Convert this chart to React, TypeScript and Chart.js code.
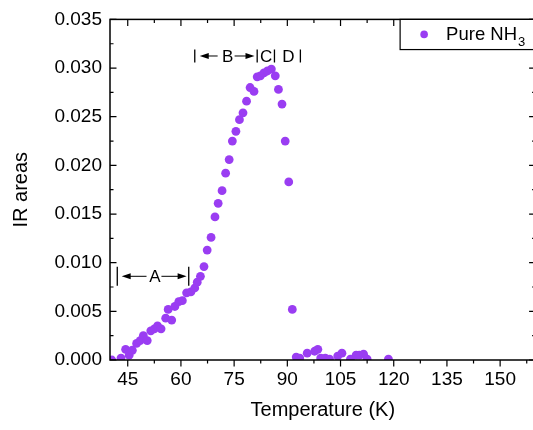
import React, { useEffect, useRef } from 'react';
import { Chart, registerables } from 'chart.js';

Chart.register(...registerables);

const temperatures = [
  40.5, 43.1, 44.4, 45.4, 46.3, 47.5, 48.5, 49.4, 50.5, 51.5,
  52.5, 53.4, 54.4, 55.7, 56.4, 57.4, 58.3, 59.4, 60.4, 61.6,
  62.8, 63.9, 64.6, 65.5, 66.5, 67.4, 68.5, 69.6, 70.5, 71.6,
  72.6, 73.6, 74.5, 75.5, 76.5, 77.5, 78.5, 79.5, 80.6, 81.5,
  82.4, 83.4, 84.4, 85.5, 86.6, 87.5, 88.5, 89.4, 90.4, 91.4,
  92.5, 93.5, 95.6, 97.7, 98.6, 99.4, 100.7, 101.9, 104.2, 105.4,
  107.8, 109.4, 110.3, 111.5, 112.5, 118.5,
];
const irAreas = [
  0.0000, 0.0002, 0.0011, 0.0005, 0.0010, 0.0017, 0.0020, 0.0025, 0.0020, 0.0030,
  0.0032, 0.0035, 0.0032, 0.0043, 0.0052, 0.0041, 0.0055, 0.0060, 0.0061, 0.0069,
  0.0070, 0.0074, 0.0080, 0.0086, 0.0096, 0.0113, 0.0126, 0.0147, 0.0161, 0.0174,
  0.0192, 0.0206, 0.0225, 0.0235, 0.0247, 0.0254, 0.0266, 0.0280, 0.0276, 0.0291,
  0.0292, 0.0295, 0.0297, 0.0299, 0.0292, 0.0278, 0.0263, 0.0225, 0.0183, 0.0052,
  0.0003, 0.0002, 0.0007, 0.0009, 0.0011, 0.0002, 0.0002, 0.0001, 0.0004, 0.0007,
  0.0001, 0.0005, 0.0005, 0.0006, 0.0001, 0.0001,
];
const xTickValues = [45, 60, 75, 90, 105, 120, 135, 150];
const yTickValues = [0, 0.005, 0.01, 0.015, 0.02, 0.025, 0.03, 0.035];
const xMinorValues = [52.5, 67.5, 82.5, 97.5, 112.5, 127.5, 142.5, 157.5];
const yMinorValues = [0.0025, 0.0075, 0.0125, 0.0175, 0.0225, 0.0275, 0.0325];
const seriesName = 'Pure NH';
const seriesSub = '3';
const xTitle = 'Temperature (K)';
const yTitle = 'IR areas';

const FONT = '"Liberation Sans", Arial, sans-serif';
const COLOR = '#9a3df2';

export default function App() {
  const ref = useRef<HTMLCanvasElement>(null);

  useEffect(() => {
    if (!ref.current) return;

    const framePlugin = {
      id: 'frame',
      afterDraw(chart: any) {
        const { ctx, chartArea: a, scales } = chart;
        const xs = (v: number) => scales.x.getPixelForValue(v);
        const ys = (v: number) => scales.y.getPixelForValue(v);
        ctx.save();
        ctx.strokeStyle = '#000';
        ctx.fillStyle = '#000';
        // frame
        ctx.lineWidth = 1.5;
        ctx.strokeRect(a.left, a.top, a.right - a.left, a.bottom - a.top);
        ctx.lineWidth = 1.2;
        ctx.beginPath();
        xTickValues.forEach((v) => {
          const p = xs(v);
          ctx.moveTo(p, a.bottom); ctx.lineTo(p, a.bottom + 6.5);
          ctx.moveTo(p, a.top); ctx.lineTo(p, a.top + 6.5);
        });
        xMinorValues.forEach((v) => {
          const p = xs(v);
          ctx.moveTo(p, a.bottom); ctx.lineTo(p, a.bottom + 3.5);
          ctx.moveTo(p, a.top); ctx.lineTo(p, a.top + 3.5);
        });
        yTickValues.forEach((v) => {
          const p = ys(v);
          ctx.moveTo(a.left, p); ctx.lineTo(a.left + 6.5, p);
          ctx.moveTo(a.right, p); ctx.lineTo(a.right - 6.5, p);
        });
        yMinorValues.forEach((v) => {
          const p = ys(v);
          ctx.moveTo(a.left, p); ctx.lineTo(a.left + 3.5, p);
          ctx.moveTo(a.right, p); ctx.lineTo(a.right - 3.5, p);
        });
        ctx.stroke();

        // legend
        const lx = xs(121.8);
        const lb = ys(0.0319);
        ctx.fillStyle = '#fff';
        ctx.fillRect(lx, a.top, a.right + 10 - lx, lb - a.top);
        ctx.lineWidth = 1.2;
        ctx.strokeRect(lx, a.top, a.right + 10 - lx, lb - a.top);
        ctx.fillStyle = COLOR;
        ctx.beginPath();
        ctx.arc(lx + 24, a.top + 15, 3.8, 0, Math.PI * 2);
        ctx.fill();
        ctx.fillStyle = '#000';
        ctx.textBaseline = 'alphabetic';
        ctx.textAlign = 'left';
        ctx.font = `18.5px ${FONT}`;
        ctx.fillText(seriesName, lx + 46, a.top + 21);
        const w = ctx.measureText(seriesName).width;
        ctx.font = `13px ${FONT}`;
        ctx.fillText(seriesSub, lx + 46 + w + 1, a.top + 26.5);

        // annotations
        const bar = (t: number, yc: number, h: number) => {
          ctx.lineWidth = 1.3;
          ctx.beginPath();
          ctx.moveTo(xs(t), yc - h / 2);
          ctx.lineTo(xs(t), yc + h / 2);
          ctx.stroke();
        };
        const arrow = (tail: number, head: number, yc: number) => {
          const x0 = xs(tail), x1 = xs(head);
          const dir = x1 > x0 ? 1 : -1;
          ctx.lineWidth = 1;
          ctx.beginPath();
          ctx.moveTo(x0, yc);
          ctx.lineTo(x1 - dir * 7, yc);
          ctx.stroke();
          ctx.beginPath();
          ctx.moveTo(x1, yc);
          ctx.lineTo(x1 - dir * 9, yc - 3);
          ctx.lineTo(x1 - dir * 9, yc + 3);
          ctx.closePath();
          ctx.fill();
        };
        const label = (text: string, t: number, yc: number) => {
          ctx.font = `17px ${FONT}`;
          ctx.textAlign = 'center';
          ctx.textBaseline = 'middle';
          ctx.fillText(text, xs(t), yc + 1);
        };
        const yA = ys(0.0086);
        bar(42.05, yA, 19);
        arrow(50.3, 43.3, yA);
        label('A', 52.65, yA);
        arrow(54.5, 61.6, yA);
        bar(62.2, yA, 19);

        const yB = ys(0.03124);
        bar(63.9, yB, 13);
        arrow(70.35, 65.3, yB);
        label('B', 73.16, yB);
        arrow(75.13, 80.75, yB);
        bar(81.5, yB, 13);
        label('C', 84.04, yB);
        bar(86.37, yB, 13);
        label('D', 90.3, yB);
        bar(93.68, yB, 13);
        ctx.restore();
      },
    };

    const chart = new Chart(ref.current, {
      type: 'scatter',
      data: {
        datasets: [
          {
            label: seriesName + seriesSub,
            data: temperatures.map((t, i) => ({ x: t, y: irAreas[i] })),
            backgroundColor: COLOR,
            borderColor: COLOR,
            borderWidth: 0,
            pointRadius: 4.4,
            clip: 0,
          },
        ],
      },
      options: {
        responsive: false,
        animation: false,
        layout: { padding: { top: 16, right: 3, left: 0, bottom: 0 } },
        plugins: { legend: { display: false }, tooltip: { enabled: false } },
        scales: {
          x: {
            type: 'linear',
            min: 40,
            max: 160,
            afterBuildTicks: (s: any) => { s.ticks = xTickValues.map((v) => ({ value: v })); },
            afterFit: (s: any) => { s.height = 70; },
            grid: { display: false, drawTicks: false },
            border: { display: false },
            ticks: {
              font: { family: FONT, size: 19 },
              color: '#000',
              padding: 8,
              maxRotation: 0,
              autoSkip: false,
              callback: (v: any) => String(v),
            },
            title: {
              display: true,
              text: xTitle,
              font: { family: FONT, size: 20 },
              color: '#000',
              padding: { top: 0, bottom: 8 },
            },
          },
          y: {
            type: 'linear',
            min: 0,
            max: 0.035,
            afterBuildTicks: (s: any) => { s.ticks = yTickValues.map((v) => ({ value: v })); },
            afterFit: (s: any) => { s.width = 110; },
            grid: { display: false, drawTicks: false },
            border: { display: false },
            ticks: {
              font: { family: FONT, size: 19 },
              color: '#000',
              padding: 8,
              callback: (v: any) => Number(v).toFixed(3),
            },
            title: {
              display: true,
              text: yTitle,
              font: { family: FONT, size: 20 },
              color: '#000',
              padding: { top: 9, bottom: 0 },
            },
          },
        },
      },
      plugins: [framePlugin],
    } as any);

    return () => chart.destroy();
  }, []);

  return (
    <div
      style={{
        position: 'fixed',
        left: 0,
        top: 0,
        width: 533,
        height: 430,
        overflow: 'hidden',
        background: '#fff',
      }}
    >
      <canvas ref={ref} width={540} height={430} style={{ display: 'block', width: 540, height: 430 }} />
    </div>
  );
}
